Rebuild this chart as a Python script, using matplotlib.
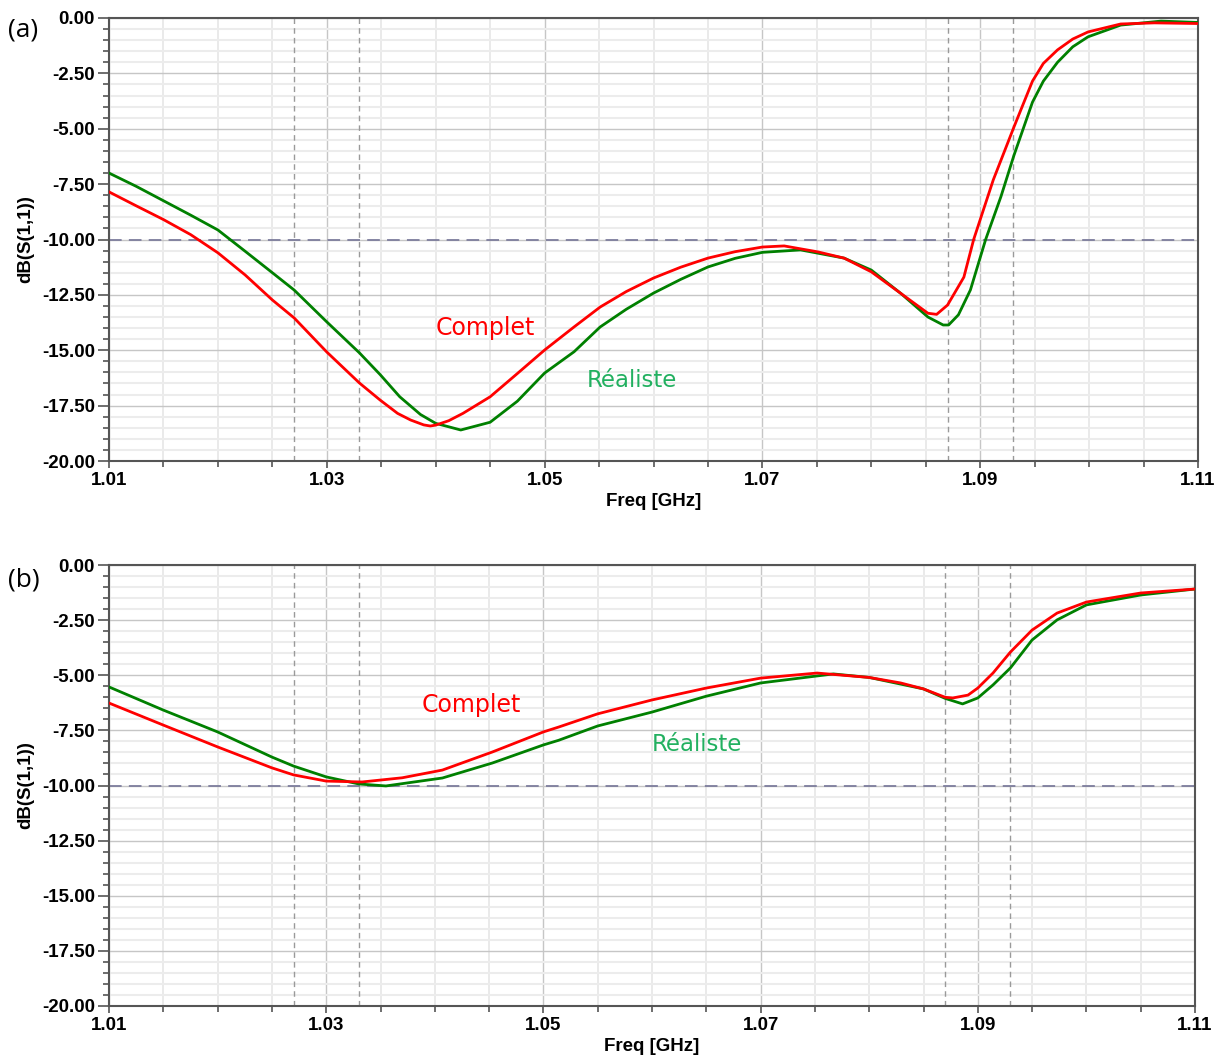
import matplotlib
matplotlib.use("Agg")
import matplotlib.pyplot as plt
from matplotlib.ticker import MultipleLocator, FixedLocator, FormatStrFormatter

plt.rcParams["font.family"] = ["Liberation Sans", "DejaVu Sans"]

# ---------------- data ----------------
# Panel (a)
fa_red = [1.010, 1.0125, 1.015, 1.0175, 1.020, 1.0225, 1.025, 1.027, 1.030, 1.033,
          1.0349, 1.0365, 1.0377, 1.0389, 1.0395, 1.040, 1.0412, 1.0425, 1.045, 1.0475,
          1.050, 1.0527, 1.0551, 1.0575, 1.060, 1.0625, 1.065, 1.0675, 1.070, 1.072,
          1.0751, 1.0775, 1.080, 1.0827, 1.0852, 1.086, 1.087, 1.0885, 1.0894, 1.0912,
          1.0931, 1.0948, 1.0958, 1.0971, 1.0985, 1.0999, 1.1029, 1.106, 1.110]
sa_red = [-7.85, -8.48, -9.10, -9.78, -10.60, -11.60, -12.73, -13.54, -15.08, -16.48,
          -17.25, -17.85, -18.15, -18.37, -18.42, -18.38, -18.18, -17.85, -17.10, -16.05,
          -14.99, -13.95, -13.05, -12.35, -11.74, -11.25, -10.84, -10.55, -10.34, -10.29,
          -10.56, -10.84, -11.46, -12.43, -13.33, -13.38, -12.96, -11.70, -10.00, -7.31,
          -4.92, -2.85, -2.05, -1.44, -0.95, -0.63, -0.27, -0.22, -0.25]

fa_green = [1.010, 1.0125, 1.015, 1.0175, 1.020, 1.0225, 1.025, 1.027, 1.030, 1.033,
            1.0349, 1.0367, 1.0386, 1.040, 1.0423, 1.045, 1.0475, 1.050, 1.0527, 1.0551,
            1.0575, 1.060, 1.0625, 1.065, 1.0675, 1.070, 1.0735, 1.0775, 1.080, 1.0827,
            1.0852, 1.0866, 1.0871, 1.088, 1.0891, 1.0905, 1.0919, 1.0931, 1.0948, 1.0958,
            1.0971, 1.0985, 1.0999, 1.1029, 1.1066, 1.110]
sa_green = [-7.00, -7.60, -8.25, -8.90, -9.57, -10.53, -11.50, -12.28, -13.72, -15.12,
            -16.10, -17.10, -17.90, -18.30, -18.60, -18.25, -17.30, -16.03, -15.07, -13.95,
            -13.15, -12.42, -11.80, -11.24, -10.85, -10.58, -10.47, -10.84, -11.38, -12.43,
            -13.50, -13.86, -13.86, -13.40, -12.28, -10.00, -8.07, -6.20, -3.80, -2.85,
            -2.00, -1.30, -0.85, -0.32, -0.14, -0.20]

# Panel (b)
fb_red = [1.010, 1.015, 1.020, 1.025, 1.027, 1.030, 1.0333, 1.037, 1.0407, 1.0453,
          1.050, 1.0514, 1.055, 1.060, 1.065, 1.070, 1.0752, 1.080, 1.0829, 1.085,
          1.087, 1.0877, 1.0891, 1.090, 1.0914, 1.093, 1.095, 1.0973, 1.100, 1.105, 1.110]
sb_red = [-6.26, -7.26, -8.25, -9.20, -9.52, -9.80, -9.84, -9.65, -9.30, -8.48,
          -7.57, -7.35, -6.75, -6.12, -5.58, -5.13, -4.90, -5.10, -5.35, -5.62,
          -6.00, -6.03, -5.90, -5.58, -4.90, -3.95, -2.95, -2.18, -1.68, -1.27, -1.09]

fb_green = [1.010, 1.015, 1.020, 1.025, 1.027, 1.030, 1.033, 1.0355, 1.0407, 1.0453,
            1.050, 1.0514, 1.055, 1.060, 1.065, 1.070, 1.0767, 1.080, 1.085, 1.087,
            1.0886, 1.090, 1.0914, 1.093, 1.095, 1.0973, 1.100, 1.105, 1.110]
sb_green = [-5.53, -6.58, -7.57, -8.71, -9.12, -9.61, -9.93, -10.02, -9.66, -8.98,
            -8.16, -7.95, -7.30, -6.67, -5.95, -5.35, -4.94, -5.10, -5.62, -6.05,
            -6.30, -6.03, -5.44, -4.67, -3.40, -2.49, -1.81, -1.36, -1.09]

marker_freqs = [1.027, 1.033, 1.087, 1.093]
threshold = -10.0
xticks = [1.01, 1.03, 1.05, 1.07, 1.09, 1.11]
panel_labels = ["(a)", "(b)"]
label_complet = "Complet"
label_realiste = "Réaliste"
# annotation positions (data coords)
ann_a = {"complet": (1.0446, -14.0), "realiste": (1.058, -16.35)}
ann_b = {"complet": (1.0434, -6.35), "realiste": (1.0641, -8.16)}

RED = "#ff0000"
GREEN = "#008000"
TXT_GREEN = "#22b060"

fig = plt.figure(figsize=(12.22, 10.61), dpi=100)
ax_a = fig.add_axes([109/1222, 1-461/1061, 1089/1222, 443/1061])
ax_b = fig.add_axes([109/1222, 1-1006/1061, 1086/1222, 441/1061])

def style(ax):
    ax.set_xlim(1.01, 1.11)
    ax.set_ylim(-20, 0)
    ax.xaxis.set_major_locator(FixedLocator(xticks))
    ax.xaxis.set_minor_locator(MultipleLocator(0.005))
    ax.yaxis.set_major_locator(MultipleLocator(2.5))
    ax.yaxis.set_minor_locator(MultipleLocator(0.5))
    ax.xaxis.set_major_formatter(FormatStrFormatter("%.2f"))
    ax.yaxis.set_major_formatter(FormatStrFormatter("%.2f"))
    ax.grid(which="minor", axis="x", color="#e6e6e6", lw=1.2, zorder=0)
    ax.grid(which="minor", axis="y", color="#ececec", lw=1.5, zorder=0)
    ax.grid(which="major", axis="both", color="#c6c6c6", lw=1.0, zorder=0)
    ax.set_axisbelow(True)
    for s in ax.spines.values():
        s.set_color("#555555")
        s.set_linewidth(1.5)
    ax.tick_params(axis="both", which="major", direction="out", length=8,
                   width=1.2, color="#555555", labelsize=13.5, pad=2)
    ax.tick_params(axis="x", which="major", length=5, pad=3)
    ax.tick_params(axis="both", which="minor", direction="out", length=4,
                   width=1.2, color="#555555")
    for lab in ax.get_xticklabels() + ax.get_yticklabels():
        lab.set_fontweight("bold")
    ax.set_xlabel("Freq [GHz]", fontsize=13.5, fontweight="bold", labelpad=3)
    ax.set_ylabel("dB(S(1,1))", fontsize=13.5, fontweight="bold", labelpad=6)
    for f in marker_freqs:
        ax.axvline(f, color="#9a9a9a", lw=1.0, ls=(0, (4, 3)), zorder=1)
    ax.axhline(threshold, color="#7d7d9d", lw=1.3, ls=(0, (7, 4)), zorder=1)

for ax, (fr, sr, fg, sg), ann in [
        (ax_a, (fa_red, sa_red, fa_green, sa_green), ann_a),
        (ax_b, (fb_red, sb_red, fb_green, sb_green), ann_b)]:
    style(ax)
    ax.plot(fg, sg, color=GREEN, lw=2.0, zorder=3, solid_joinstyle="round")
    ax.plot(fr, sr, color=RED, lw=2.0, zorder=4, solid_joinstyle="round")
    ax.text(*ann["complet"], label_complet, color=RED, fontsize=17,
            ha="center", va="center", family="DejaVu Sans", zorder=5)
    ax.text(*ann["realiste"], label_realiste, color=TXT_GREEN, fontsize=16.5,
            ha="center", va="center", family="DejaVu Sans", zorder=5)

fig.text(8/1222, 1-30/1061, panel_labels[0], fontsize=19, ha="left", va="center",
         family="Open Sans")
fig.text(8/1222, 1-580/1061, panel_labels[1], fontsize=19, ha="left", va="center",
         family="Open Sans")

fig.savefig("out.png", dpi=100)
